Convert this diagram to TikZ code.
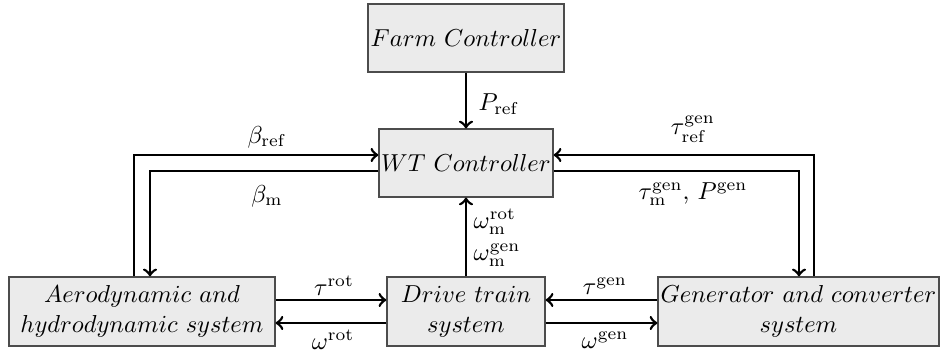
\documentclass[tikz,border=0pt]{standalone}
\usetikzlibrary{calc}
\begin{document}
\begin{tikzpicture}[x=0.408pt,y=-0.408pt,
  blk/.style={draw=black!70,line width=0.5pt,fill=black!8,inner sep=0pt,align=center,minimum height=28.2pt},
  sig/.style={->,line width=1.1pt},
  lbl/.style={inner sep=0pt}]
\useasboundingbox (0,0) rectangle (944,355);
\node[blk,minimum width=80pt,minimum height=27.7pt] (farm) at (466,38) {$Farm\ Controller$};
\node[blk,minimum width=71pt,minimum height=27.7pt] (wt) at (466,163) {$WT\ Controller$};
\node[blk,minimum width=108.5pt] (aero) at (142,311.5) {$Aerodynamic\ and$\\$hydrodynamic\ system$};
\node[blk,minimum width=64.5pt] (drive) at (466,311.5) {$Drive\ train$\\$system$};
\node[blk,minimum width=114.6pt] (gen) at (798.5,311.5) {$Generator\ and\ converter$\\$system$};
% farm -> wt
\draw[sig] (farm) -- (wt);
% aero <-> wt
\draw[sig] ($(aero.north)+(-8,0)$) |- ($(wt.west)+(0,-8)$);
\draw[sig] ($(wt.west)+(0,8)$) -| ($(aero.north)+(8,0)$);
% gen <-> wt
\draw[sig] ($(gen.north)+(15.5,0)$) |- ($(wt.east)+(0,-8)$);
\draw[sig] ($(wt.east)+(0,8)$) -| ($(gen.north)+(0.5,0)$);
% drive -> wt
\draw[sig] (drive) -- (wt);
% aero <-> drive
\draw[sig] ($(aero.east)+(0,-11.5)$) -- ($(drive.west)+(0,-11.5)$);
\draw[sig] ($(drive.west)+(0,11.5)$) -- ($(aero.east)+(0,11.5)$);
% gen <-> drive
\draw[sig] ($(gen.west)+(0,-11.5)$) -- ($(drive.east)+(0,-11.5)$);
\draw[sig] ($(drive.east)+(0,11.5)$) -- ($(gen.west)+(0,11.5)$);
% labels
\node[lbl] (lpref) at (499,104) {$P_{\mathrm{ref}}$};
\node[lbl] (lbref) at (267,137) {$\beta_{\mathrm{ref}}$};
\node[lbl] (lbm) at (267,196) {$\beta_{\mathrm{m}}$};
\node[lbl] (ltref) at (693,129) {$\tau^{\mathrm{gen}}_{\mathrm{ref}}$};
\node[lbl] (ltm) at (693,194) {$\tau^{\mathrm{gen}}_{\mathrm{m}}$, $P^{\mathrm{gen}}$};
\node[lbl,align=left] (lwm) at (497,238) {$\omega^{\mathrm{rot}}_{\mathrm{m}}$\\[1pt]$\omega^{\mathrm{gen}}_{\mathrm{m}}$};
\node[lbl] (ltrot) at (334,286) {$\tau^{\mathrm{rot}}$};
\node[lbl] (lorot) at (333,340) {$\omega^{\mathrm{rot}}$};
\node[lbl] (ltgen) at (605,286) {$\tau^{\mathrm{gen}}$};
\node[lbl] (logen) at (605,340) {$\omega^{\mathrm{gen}}$};
\end{tikzpicture}
\end{document}
